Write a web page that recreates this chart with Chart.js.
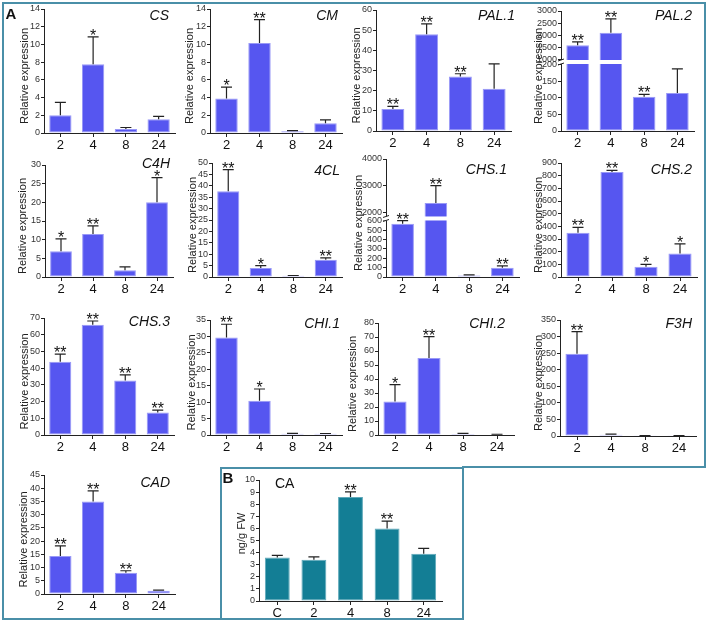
<!DOCTYPE html>
<html>
<head>
<meta charset="utf-8">
<script src="https://cdn.jsdelivr.net/npm/chart.js@4.4.1/dist/chart.umd.min.js"></script>
<style>
html, body { margin: 0; padding: 0; background: #fff; }
#fig { position: relative; width: 708px; height: 622px; overflow: hidden; font-family: "Liberation Sans", Arial, sans-serif; }
#fig canvas { position: absolute; }
.lab { position: absolute; white-space: nowrap; line-height: 1; color: #111; }
.gene { font-style: italic; font-size: 14px; transform: translate(-100%, -50%); }
.letter { font-weight: bold; font-size: 15px; transform: translate(-50%, -50%); }
</style>
</head>
<body>
<div id="fig">
  <svg width="708" height="622" style="position:absolute;left:0;top:0">
    <path d="M3,3H705V467H463V619H3Z M221,619V468H463" fill="none" stroke="#4a8fa8" stroke-width="2"/>
  </svg>
</div>
<script>
// --- datos ---
const hours = ['2', '4', '8', '24'];
const hoursCA = ['C', '2', '4', '8', '24'];

const csMean = [2.0, 7.75, 0.45, 1.55];
const csErr = [1.45, 3.1, 0.17, 0.32];
const csSig = ['', '*', '', ''];

const cmMean = [3.9, 10.15, 0.2, 1.1];
const cmErr = [1.28, 2.65, 0.06, 0.38];
const cmSig = ['*', '**', '', ''];

const pal1Mean = [10.9, 48.0, 27.0, 21.0];
const pal1Err = [1.3, 5.1, 1.4, 12.3];
const pal1Sig = ['**', '**', '**', ''];

const pal2Mean = [1600, 2110, 104, 115];
const pal2Err = [140, 570, 7, 73];
const pal2Sig = ['**', '**', '**', ''];

const c4hMean = [6.9, 11.5, 1.8, 20.0];
const c4hErr = [3.3, 2.2, 0.9, 6.6];
const c4hSig = ['*', '**', '', '*'];

const cl4Mean = [37.6, 4.0, 0.5, 7.6];
const cl4Err = [9.5, 1.0, 0.15, 0.8];
const cl4Sig = ['**', '*', '', '**'];

const chs1Mean = [570, 2350, 15, 100];
const chs1Err = [35, 650, 7, 20];
const chs1Sig = ['**', '**', '', '**'];

const chs2Mean = [350, 828, 80, 185];
const chs2Err = [42, 13, 20, 77];
const chs2Sig = ['**', '**', '*', '*'];

const chs3Mean = [43.8, 66.0, 32.6, 13.5];
const chs3Err = [4.6, 2.2, 3.4, 1.4];
const chs3Sig = ['**', '**', '**', '**'];

const chi1Mean = [29.7, 10.4, 0.4, 0.35];
const chi1Err = [4.0, 3.6, 0.12, 0.1];
const chi1Sig = ['**', '*', '', ''];

const chi2Mean = [24.0, 55.0, 0.8, 0.4];
const chi2Err = [12.0, 15.3, 0.4, 0.15];
const chi2Sig = ['*', '**', '', ''];

const f3hMean = [248, 4, 1, 1];
const f3hErr = [67, 1.5, 0.3, 0.3];
const f3hSig = ['**', '', '', ''];

const cadMean = [14.4, 35.0, 8.0, 1.25];
const cadErr = [3.8, 4.0, 0.8, 0.2];
const cadSig = ['**', '**', '**', ''];

const caMean = [3.6, 3.4, 8.6, 6.0, 3.9];
const caErr = [0.17, 0.25, 0.42, 0.6, 0.45];
const caSig = ['', '', '**', '**', ''];

const FONT = '"Liberation Sans", Arial, sans-serif';
const NARROW = '"Liberation Sans Narrow", "Liberation Sans", Arial, sans-serif';
const BLUE = '#5656f0', BLUE_EDGE = '#9999f6';
const TEAL = '#137e95', TEAL_EDGE = '#5fa9ba';

// box = [eje x izq, derecha, y del máximo, y del cero]
const panels = [
  { name: 'CS', labels: hours, mean: csMean, err: csErr, sig: csSig, max: 14, step: 2, box: [44, 175, 9, 133], at: [169, 15], gap: 19 },
  { name: 'CM', labels: hours, mean: cmMean, err: cmErr, sig: cmSig, max: 14, step: 2, box: [210, 342, 9, 133], at: [338, 15], gap: 20 },
  { name: 'PAL.1', labels: hours, mean: pal1Mean, err: pal1Err, sig: pal1Sig, max: 60, step: 10, box: [376, 511, 10, 131], at: [515, 15], gap: 19 },
  { name: 'PAL.2', labels: hours, mean: pal2Mean, err: pal2Err, sig: pal2Sig, max: 209, step: 50, box: [561, 694, 11, 131], at: [692, 15], gap: 22,
    brk: { upMin: 918, upMax: 3000, upStep: 500, upW: 0.425 } },
  { name: 'C4H', labels: hours, mean: c4hMean, err: c4hErr, sig: c4hSig, max: 30, step: 5, box: [45, 173, 165, 277], at: [170, 163], gap: 22 },
  { name: '4CL', labels: hours, mean: cl4Mean, err: cl4Err, sig: cl4Sig, max: 50, step: 5, box: [212, 342, 163, 277], at: [340, 170], gap: 19 },
  { name: 'CHS.1', labels: hours, mean: chs1Mean, err: chs1Err, sig: chs1Sig, max: 627, step: 100, box: [386, 519, 159, 277], at: [507, 169], gap: 27,
    brk: { upMin: 1772, upMax: 4000, upStep: 1000, upW: 0.504 } },
  { name: 'CHS.2', labels: hours, mean: chs2Mean, err: chs2Err, sig: chs2Sig, max: 900, step: 100, box: [561, 697, 163, 277], at: [692, 169], gap: 22 },
  { name: 'CHS.3', labels: hours, mean: chs3Mean, err: chs3Err, sig: chs3Sig, max: 70, step: 10, box: [44, 174, 318, 435], at: [170, 321], gap: 19 },
  { name: 'CHI.1', labels: hours, mean: chi1Mean, err: chi1Err, sig: chi1Sig, max: 35, step: 5, box: [210, 342, 320, 435], at: [340, 323], gap: 18 },
  { name: 'CHI.2', labels: hours, mean: chi2Mean, err: chi2Err, sig: chi2Sig, max: 80, step: 10, box: [378, 514, 323, 435], at: [505, 323], gap: 25 },
  { name: 'F3H', labels: hours, mean: f3hMean, err: f3hErr, sig: f3hSig, max: 350, step: 50, box: [560, 696, 320, 436], at: [692, 323], gap: 21 },
  { name: 'CAD', labels: hours, mean: cadMean, err: cadErr, sig: cadSig, max: 45, step: 5, box: [44, 175, 475, 594], at: [170, 482], gap: 20 },
  { name: 'CA', labels: hoursCA, mean: caMean, err: caErr, sig: caSig, max: 10, step: 1, box: [259, 442, 480, 601], gap: 17, dy: -7,
    title: 'ng/g FW', teal: true }
];

const Y_W = 40, X_H = 21, PAD_T = 10, PAD_R = 6, PAD_B = 2;
const fig = document.getElementById('fig');

function addLabel(cls, text, x, y, extra) {
  const d = document.createElement('div');
  d.className = 'lab ' + cls;
  d.textContent = text;
  d.style.left = x + 'px';
  d.style.top = y + 'px';
  if (extra) Object.assign(d.style, extra);
  fig.appendChild(d);
}

// barras de error, asteriscos, título del eje y corte del eje
const errPlugin = {
  id: 'errBars',
  afterDatasetsDraw(chart, args, o) {
    const ctx = chart.ctx;
    const area = chart.chartArea;
    ctx.save();
    if (o.brk) {
      const yb = chart.scales.y2.bottom;
      ctx.fillStyle = '#fff';
      ctx.fillRect(area.left - 4, yb - 2, area.right - area.left + 8, 4);
      ctx.strokeStyle = '#222';
      ctx.lineWidth = 1;
      [-2, 2].forEach(d => {
        ctx.beginPath();
        ctx.moveTo(area.left - 3, yb + d + 1);
        ctx.lineTo(area.left + 3, yb + d - 1);
        ctx.stroke();
      });
    }
    const meta = chart.getDatasetMeta(0);
    o.mean.forEach((v, i) => {
      const sc = (o.brk && v > o.lowMax) ? chart.scales.y2 : chart.scales.y;
      const x = meta.data[i].x;
      const yTop = sc.getPixelForValue(v);
      const yErr = sc.getPixelForValue(v + o.err[i]);
      ctx.strokeStyle = '#222';
      ctx.lineWidth = 1.2;
      ctx.beginPath();
      ctx.moveTo(x, yTop);
      ctx.lineTo(x, yErr);
      ctx.moveTo(x - o.cap, yErr);
      ctx.lineTo(x + o.cap, yErr);
      ctx.stroke();
      if (o.sig[i]) {
        ctx.fillStyle = '#111';
        ctx.font = '16px ' + FONT;
        ctx.textAlign = 'center';
        ctx.textBaseline = 'alphabetic';
        ctx.fillText(o.sig[i], x, yErr + 4);
      }
    });
    // título del eje y
    ctx.translate(area.left - o.gap, (area.top + area.bottom) / 2 + o.dy);
    ctx.rotate(-Math.PI / 2);
    ctx.fillStyle = '#222';
    ctx.font = '11px ' + FONT;
    ctx.textAlign = 'center';
    ctx.textBaseline = 'middle';
    ctx.fillText(o.title, 0, 0);
    ctx.restore();
  }
};

function yScale(min, max, step, extra) {
  return Object.assign({
    type: 'linear', position: 'left', min: min, max: max,
    ticks: { stepSize: step, autoSkip: false, color: '#333', font: { size: 9, family: NARROW }, padding: 1,
      callback: v => String(v) },
    grid: { drawOnChartArea: false, tickLength: 3, color: '#222' },
    border: { color: '#222', width: 1 },
    // marcas solo en múltiplos del paso dentro del rango
    afterBuildTicks: s => {
      const t = [];
      for (let v = Math.ceil(min / step - 1e-9) * step; v <= max + 1e-9; v += step) t.push({ value: v });
      s.ticks = t;
    },
    afterFit: s => { s.width = Y_W; }
  }, extra || {});
}

function makePanel(p) {
  const [ax, rx, ty, by] = p.box;
  const L = ax - Y_W, T = ty - PAD_T;
  const W = rx + PAD_R - L, H = by + X_H + PAD_B - T;
  const cv = document.createElement('canvas');
  cv.width = W; cv.height = H;
  cv.style.left = L + 'px'; cv.style.top = T + 'px';
  cv.style.width = W + 'px'; cv.style.height = H + 'px';
  fig.appendChild(cv);

  const fill = p.teal ? TEAL : BLUE, edge = p.teal ? TEAL_EDGE : BLUE_EDGE;
  const barStyle = { backgroundColor: fill, borderColor: edge, borderWidth: 1, borderSkipped: false,
    barPercentage: 0.68, categoryPercentage: 1, grouped: false };

  const scales = {
    x: {
      type: 'category',
      grid: { offset: false, drawOnChartArea: false, tickLength: 4, color: '#222' },
      border: { color: '#222', width: 1 },
      ticks: { color: '#111', font: { size: 13, family: FONT }, padding: 1, autoSkip: false, maxRotation: 0 },
      afterFit: s => { s.height = X_H; }
    }
  };
  let datasets;
  if (p.brk) {
    scales.y = yScale(0, p.max, p.step, { stack: 'brk', stackWeight: 1 - p.brk.upW });
    scales.y2 = yScale(p.brk.upMin, p.brk.upMax, p.brk.upStep, { stack: 'brk', stackWeight: p.brk.upW });
    datasets = [
      Object.assign({ data: p.mean.map(v => Math.min(v, p.max)), yAxisID: 'y' }, barStyle),
      Object.assign({ data: p.mean.map(v => v > p.brk.upMin ? [p.brk.upMin, v] : null), yAxisID: 'y2' }, barStyle)
    ];
  } else {
    scales.y = yScale(0, p.max, p.step);
    datasets = [Object.assign({ data: p.mean, yAxisID: 'y' }, barStyle)];
  }

  new Chart(cv, {
    type: 'bar',
    data: { labels: p.labels, datasets: datasets },
    options: {
      responsive: false,
      animation: false,
      devicePixelRatio: 1,
      layout: { padding: { left: 0, top: PAD_T, right: PAD_R, bottom: PAD_B } },
      plugins: {
        legend: { display: false },
        tooltip: { enabled: false },
        errBars: {
          mean: p.mean, err: p.err, sig: p.sig, cap: 5.5,
          brk: !!p.brk, lowMax: p.max,
          gap: p.gap, dy: p.dy !== undefined ? p.dy : 5,
          title: p.title || 'Relative expression'
        }
      },
      scales: scales
    },
    plugins: [errPlugin]
  });

  if (p.at) addLabel('gene', p.name, p.at[0], p.at[1]);
}

panels.forEach(makePanel);

addLabel('letter', 'A', 11, 13);
addLabel('letter', 'B', 228, 477);
addLabel('', 'CA', 275, 483, { fontSize: '14px', transform: 'translate(0,-50%)' });
</script>
</body>
</html>
